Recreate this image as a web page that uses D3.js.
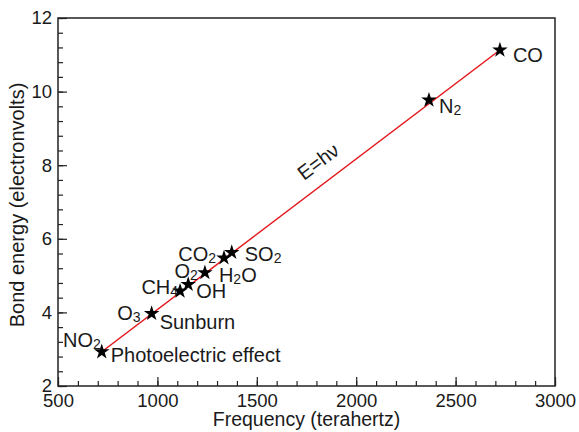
<!DOCTYPE html>
<html>
<head>
<meta charset="utf-8">
<script src="https://cdn.jsdelivr.net/npm/d3@7"></script>
<style>
  body { margin: 0; background: #fff; }
  svg text { font-family: "Liberation Sans", Arial, sans-serif; fill: #1a1a1a; }
</style>
</head>
<body>
<script>
// Data
const molecules = ["NO_2", "O_3", "CH_4", "OH", "O_2", "CO_2", "SO_2", "N_2", "CO"];
const frequency = [720, 971, 1114, 1155, 1239, 1335, 1374, 2366, 2723];
const energy    = [2.93, 3.97, 4.58, 4.76, 5.08, 5.48, 5.63, 9.77, 11.13];
// extra labels sharing a star
const extraLabels = ["Photoelectric effect", "Sunburn", "H_2O"];
const extraOf     = ["NO_2", "O_3", "O_2"];
const xTicks = [500, 1000, 1500, 2000, 2500, 3000];
const yTicks = [2, 4, 6, 8, 10, 12];

// Layout
const w = 579, h = 432;
const plot = { left: 58, top: 18, right: 555, bottom: 386 };

// label offsets (px) from their star: [dx, dy, anchor]
const labelPos = {
  "NO_2": [-1, -5, "end"], "O_3": [-11, 6, "end"], "CH_4": [-2, 3, "end"],
  "OH": [8, 14, "start"], "O_2": [-7, 5, "end"], "CO_2": [-8, 3, "end"],
  "SO_2": [13, 9, "start"], "N_2": [10, 13, "start"], "CO": [13, 12, "start"],
  "Photoelectric effect": [9, 10, "start"], "Sunburn": [8, 15, "start"], "H_2O": [14, 9, "start"]
};

const svg = d3.select('body').append('svg')
  .attr('width', w)
  .attr('height', h);

const xScale = d3.scaleLinear().domain([500, 3000]).range([plot.left, plot.right]);
const yScale = d3.scaleLinear().domain([2, 12]).range([plot.bottom, plot.top]);

// minor ticks (inward)
svg.append('g')
  .attr('transform', 'translate(0,' + plot.bottom + ')')
  .call(d3.axisBottom(xScale).tickValues(d3.range(500, 3001, 100)).tickSize(-5).tickFormat(''))
  .call(g => g.select('.domain').remove());
svg.append('g')
  .attr('transform', 'translate(' + plot.left + ',0)')
  .call(d3.axisLeft(yScale).tickValues(d3.range(2, 12.01, 0.4)).tickSize(-5).tickFormat(''))
  .call(g => g.select('.domain').remove());

// major ticks + labels
const xAxis = svg.append('g')
  .attr('transform', 'translate(0,' + plot.bottom + ')')
  .call(d3.axisBottom(xScale).tickValues(xTicks).tickFormat(d3.format('d'))
    .tickSizeInner(-9).tickSizeOuter(0).tickPadding(8))
  .call(g => g.select('.domain').remove());
xAxis.selectAll('text').attr('font-size', 18.5).attr('fill', '#1a1a1a');

const yAxis = svg.append('g')
  .attr('transform', 'translate(' + plot.left + ',0)')
  .call(d3.axisLeft(yScale).tickValues(yTicks).tickSizeInner(-9).tickSizeOuter(0).tickPadding(6))
  .call(g => g.select('.domain').remove());
yAxis.selectAll('text').attr('font-size', 18.5).attr('fill', '#1a1a1a');

svg.selectAll('.tick line').attr('stroke', '#222').attr('stroke-width', 1.2);

// frame
svg.append('rect')
  .attr('x', plot.left).attr('y', plot.top)
  .attr('width', plot.right - plot.left).attr('height', plot.bottom - plot.top)
  .attr('fill', 'none').attr('stroke', '#222').attr('stroke-width', 1.5);

// axis titles
svg.append('text')
  .attr('x', (plot.left + plot.right) / 2).attr('y', 426)
  .attr('text-anchor', 'middle').attr('font-size', 19.5)
  .text('Frequency (terahertz)');
svg.append('text')
  .attr('transform', 'translate(24,205) rotate(-90)')
  .attr('text-anchor', 'middle').attr('font-size', 20)
  .text('Bond energy (electronvolts)');

// E = h nu line, through the first and last star
const first = 0, last = frequency.length - 1;
svg.append('line')
  .attr('x1', xScale(frequency[first])).attr('y1', yScale(energy[first]))
  .attr('x2', xScale(frequency[last])).attr('y2', yScale(energy[last]))
  .attr('stroke', '#e3161b').attr('stroke-width', 1.5);

const angle = Math.atan2(yScale(energy[last]) - yScale(energy[first]),
                         xScale(frequency[last]) - xScale(frequency[first])) * 180 / Math.PI;
svg.append('text')
  .attr('transform', 'translate(' + xScale(1830) + ',' + yScale(7.95) + ') rotate(' + angle + ')')
  .attr('text-anchor', 'middle').attr('font-size', 20)
  .text('E=hν');

// stars
svg.selectAll('path.star')
  .data(d3.range(molecules.length))
  .enter().append('path')
  .attr('class', 'star')
  .attr('transform', i => 'translate(' + xScale(frequency[i]) + ',' + yScale(energy[i]) + ')')
  .attr('d', d3.symbol(d3.symbolStar, 75))
  .attr('fill', '#000');

// labels with subscripts ("_x" marks subscript char)
function addLabel(name, x, y) {
  const p = labelPos[name];
  const t = svg.append('text')
    .attr('x', x + p[0]).attr('y', y + p[1])
    .attr('text-anchor', p[2]).attr('font-size', 20);
  const parts = name.split(/(_\d)/);
  let shift = 0;
  parts.forEach(s => {
    if (!s) return;
    if (s[0] === '_') {
      t.append('tspan').attr('font-size', 14).attr('dy', 2).text(s.slice(1));
      shift = -2;
    } else {
      t.append('tspan').attr('dy', shift).text(s);
      shift = 0;
    }
  });
}
molecules.forEach((m, i) => addLabel(m, xScale(frequency[i]), yScale(energy[i])));
extraLabels.forEach((m, k) => {
  const i = molecules.indexOf(extraOf[k]);
  addLabel(m, xScale(frequency[i]), yScale(energy[i]));
});
</script>
</body>
</html>
